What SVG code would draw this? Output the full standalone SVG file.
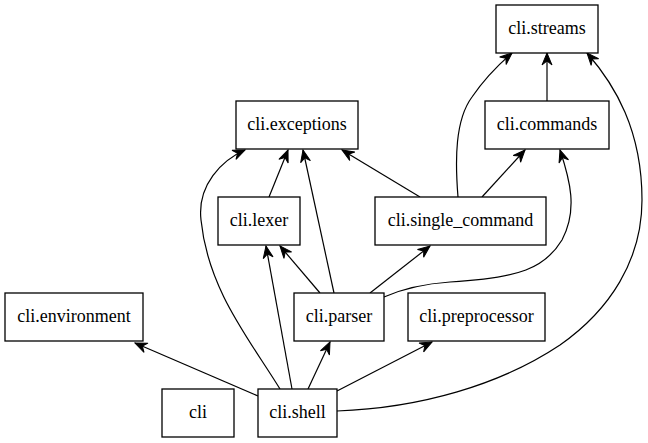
<svg xmlns="http://www.w3.org/2000/svg" width="648" height="443" viewBox="0 0 648 443">
<style>
.n rect{fill:#fff;stroke:#000;stroke-width:1.3}
.n text{font-family:'Liberation Serif','Times New Roman',serif;font-size:18px;text-anchor:middle;fill:#000}
.e path{fill:none;stroke:#000;stroke-width:1.2;marker-end:url(#a)}
</style>
<defs>
<marker id="a" markerUnits="userSpaceOnUse" markerWidth="15" markerHeight="13" viewBox="-13 -6.5 14 13" refX="0" refY="0" orient="auto">
<path d="M-12,-5 L0,0 L-12,5 L-8,0 z" fill="#000" stroke="#000" stroke-width="1"/>
</marker>
</defs>
<rect width="648" height="443" fill="#fff"/>
<g id="edges" class="e">
<path d="M258,396 L135,343"/>
<path d="M308,389 L330,342"/>
<path d="M337,391 L432,342"/>
<path d="M292,389 L266,246"/>
<path d="M280,389 C250,340 208,290 201,220 C197,185 222,160 245,150"/>
<path d="M337,411 C420,408 500,385 560,345 C610,310 642,260 642,200 C642,130 615,85 587,53"/>
<path d="M320,293 L280,246"/>
<path d="M334,293 L303,150"/>
<path d="M370,293 L430,246"/>
<path d="M384,297 C400,290 420,284 450,282 C520,278 545,268 562,240 C578,210 570,180 560,150"/>
<path d="M269,197 L288,150"/>
<path d="M420,197 L342,150"/>
<path d="M482,197 L525,150"/>
<path d="M458,197 C455,160 455,120 472,97 C485,78 498,65 512,53"/>
<path d="M547,101 L547,53"/>
</g>
<g id="cli.streams" class="n"><rect x="496" y="5" width="102" height="48"/><text x="547" y="34">cli.streams</text></g>
<g id="cli.exceptions" class="n"><rect x="236" y="101" width="122" height="48"/><text x="297" y="130">cli.exceptions</text></g>
<g id="cli.commands" class="n"><rect x="485" y="101" width="124" height="48"/><text x="547" y="130">cli.commands</text></g>
<g id="cli.lexer" class="n"><rect x="218" y="197" width="82" height="48"/><text x="259" y="226">cli.lexer</text></g>
<g id="cli.single_command" class="n"><rect x="375" y="197" width="171" height="48"/><text x="460.5" y="226">cli.single_command</text></g>
<g id="cli.environment" class="n"><rect x="5" y="293" width="138" height="48"/><text x="74" y="322">cli.environment</text></g>
<g id="cli.parser" class="n"><rect x="294" y="293" width="90" height="48"/><text x="339" y="322">cli.parser</text></g>
<g id="cli.preprocessor" class="n"><rect x="408" y="293" width="137" height="48"/><text x="476.5" y="322">cli.preprocessor</text></g>
<g id="cli" class="n"><rect x="162" y="389" width="72" height="48"/><text x="198" y="418">cli</text></g>
<g id="cli.shell" class="n"><rect x="258" y="389" width="79" height="48"/><text x="297.5" y="418">cli.shell</text></g>
</svg>
